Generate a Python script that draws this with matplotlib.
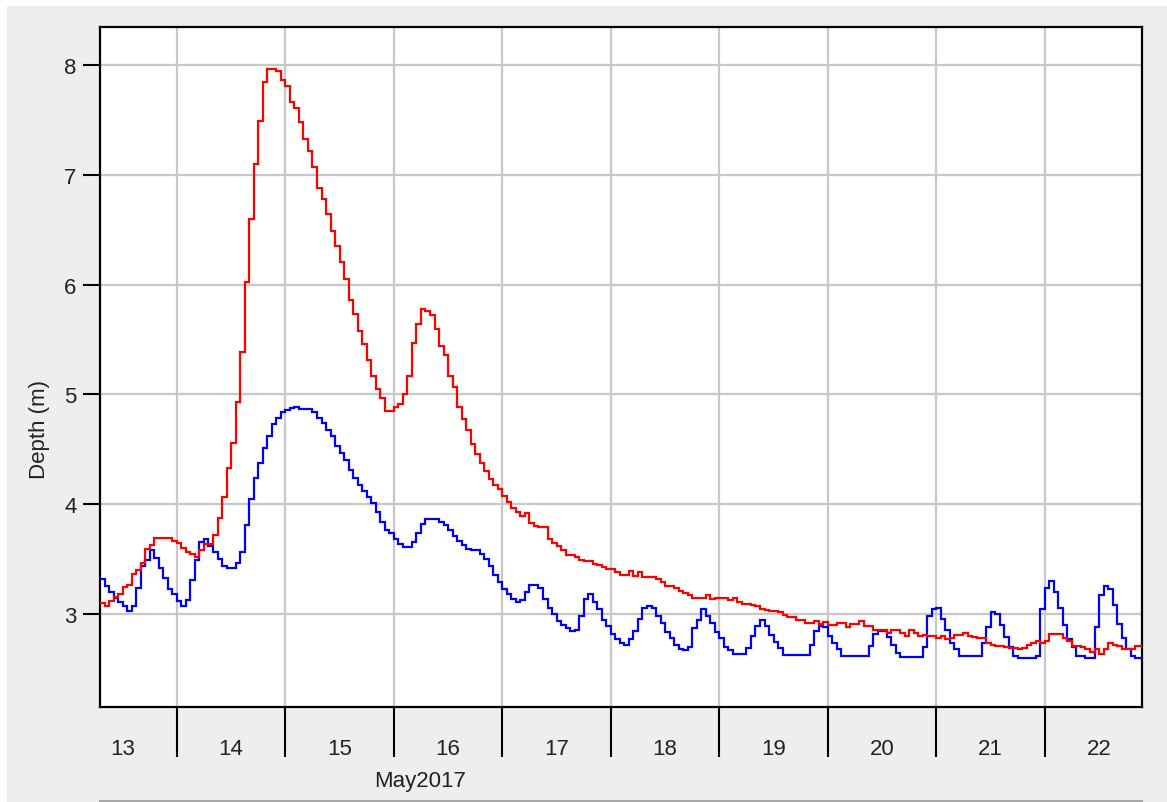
import numpy as np
import pandas as pd
import matplotlib
matplotlib.use('Agg')
import matplotlib.pyplot as plt
import matplotlib.dates as mdates
from matplotlib.patches import Rectangle
from matplotlib.lines import Line2D

plt.rcParams['font.family'] = ['Liberation Sans', 'DejaVu Sans']

# ---- data (hourly, starting 13 May 2017 07:00) ----
start_time = '2017-05-13 07:00'
red_depth = [
    3.10, 3.07, 3.12, 3.16, 3.18, 3.25, 3.27, 3.37, 3.40, 3.47,
    3.59, 3.63, 3.69, 3.69, 3.69, 3.69, 3.67, 3.65, 3.60, 3.57,
    3.55, 3.52, 3.58, 3.64, 3.64, 3.72, 3.88, 4.07, 4.33, 4.56,
    4.93, 5.39, 6.02, 6.60, 7.10, 7.49, 7.84, 7.96, 7.96, 7.94,
    7.86, 7.81, 7.66, 7.61, 7.48, 7.33, 7.22, 7.07, 6.88, 6.78,
    6.64, 6.49, 6.35, 6.21, 6.05, 5.86, 5.73, 5.58, 5.46, 5.31,
    5.17, 5.05, 4.97, 4.85, 4.85, 4.89, 4.91, 5.00, 5.17, 5.47,
    5.64, 5.78, 5.76, 5.72, 5.60, 5.44, 5.36, 5.17, 5.07, 4.89,
    4.78, 4.68, 4.55, 4.46, 4.38, 4.30, 4.23, 4.18, 4.14, 4.08,
    4.02, 3.97, 3.93, 3.89, 3.92, 3.83, 3.80, 3.79, 3.79, 3.68,
    3.65, 3.62, 3.58, 3.54, 3.54, 3.52, 3.49, 3.48, 3.48, 3.46,
    3.45, 3.43, 3.41, 3.41, 3.38, 3.36, 3.36, 3.39, 3.35, 3.38,
    3.34, 3.34, 3.34, 3.32, 3.29, 3.26, 3.26, 3.24, 3.21, 3.19,
    3.17, 3.15, 3.15, 3.15, 3.17, 3.14, 3.15, 3.15, 3.15, 3.13,
    3.15, 3.11, 3.09, 3.09, 3.08, 3.07, 3.05, 3.04, 3.03, 3.03,
    3.02, 2.99, 2.97, 2.97, 2.95, 2.95, 2.92, 2.92, 2.94, 2.91,
    2.93, 2.90, 2.90, 2.92, 2.92, 2.88, 2.91, 2.91, 2.94, 2.89,
    2.89, 2.86, 2.86, 2.86, 2.83, 2.86, 2.86, 2.83, 2.80, 2.86,
    2.83, 2.80, 2.81, 2.80, 2.80, 2.78, 2.80, 2.77, 2.78, 2.81,
    2.81, 2.83, 2.80, 2.79, 2.78, 2.78, 2.74, 2.72, 2.71, 2.71,
    2.70, 2.69, 2.69, 2.68, 2.69, 2.72, 2.74, 2.76, 2.74, 2.76,
    2.82, 2.82, 2.82, 2.78, 2.76, 2.71, 2.71, 2.70, 2.68, 2.66,
    2.68, 2.64, 2.68, 2.74, 2.72, 2.71, 2.68, 2.68, 2.68, 2.71,
    2.71,
]
blue_depth = [
    3.32, 3.26, 3.20, 3.15, 3.11, 3.07, 3.03, 3.07, 3.24, 3.44,
    3.49, 3.58, 3.51, 3.42, 3.33, 3.23, 3.18, 3.12, 3.07, 3.13,
    3.31, 3.49, 3.66, 3.68, 3.62, 3.57, 3.50, 3.44, 3.42, 3.42,
    3.47, 3.57, 3.81, 4.05, 4.24, 4.38, 4.51, 4.62, 4.73, 4.79,
    4.84, 4.86, 4.88, 4.89, 4.87, 4.87, 4.87, 4.84, 4.79, 4.74,
    4.68, 4.62, 4.53, 4.47, 4.40, 4.31, 4.24, 4.18, 4.12, 4.07,
    4.01, 3.93, 3.84, 3.77, 3.74, 3.68, 3.64, 3.61, 3.61, 3.66,
    3.74, 3.82, 3.87, 3.87, 3.87, 3.84, 3.81, 3.77, 3.71, 3.67,
    3.63, 3.59, 3.58, 3.58, 3.55, 3.50, 3.44, 3.36, 3.29, 3.23,
    3.18, 3.14, 3.11, 3.13, 3.20, 3.27, 3.27, 3.24, 3.14, 3.06,
    3.00, 2.94, 2.90, 2.87, 2.85, 2.86, 2.98, 3.14, 3.18, 3.11,
    3.05, 2.95, 2.89, 2.82, 2.77, 2.74, 2.72, 2.77, 2.85, 2.96,
    3.06, 3.07, 3.06, 2.98, 2.92, 2.84, 2.78, 2.72, 2.68, 2.67,
    2.70, 2.87, 2.95, 3.05, 2.98, 2.92, 2.84, 2.78, 2.70, 2.67,
    2.64, 2.64, 2.64, 2.69, 2.80, 2.89, 2.95, 2.89, 2.81, 2.75,
    2.69, 2.63, 2.63, 2.63, 2.63, 2.63, 2.63, 2.72, 2.85, 2.89,
    2.88, 2.80, 2.74, 2.68, 2.62, 2.62, 2.62, 2.62, 2.62, 2.62,
    2.71, 2.82, 2.85, 2.85, 2.79, 2.72, 2.65, 2.61, 2.61, 2.61,
    2.61, 2.61, 2.70, 2.98, 3.05, 3.06, 2.96, 2.86, 2.74, 2.68,
    2.62, 2.62, 2.62, 2.62, 2.62, 2.74, 2.88, 3.02, 3.00, 2.90,
    2.79, 2.70, 2.62, 2.60, 2.60, 2.60, 2.60, 2.62, 3.05, 3.24,
    3.30, 3.20, 3.06, 2.90, 2.77, 2.70, 2.62, 2.62, 2.60, 2.60,
    2.88, 3.17, 3.26, 3.23, 3.08, 2.91, 2.78, 2.68, 2.62, 2.60,
    2.60,
]
y_ticks = [3, 4, 5, 6, 7, 8]
y_label = 'Depth (m)'
month_label = 'May2017'

# ---- figure ----
W, H = 1167, 803
fig = plt.figure(figsize=(W / 100, H / 100), dpi=100)
fig.patch.set_facecolor('white')
fig.add_artist(Rectangle((7 / W, 0), (W - 7) / W, (H - 7) / H, transform=fig.transFigure,
                         facecolor='#eeeeee', edgecolor='none', zorder=0))

ax_l, ax_r, ax_t, ax_b = 100, 1142, 28, 708
ax = fig.add_axes([ax_l / W, 1 - ax_b / H, (ax_r - ax_l) / W, (ax_b - ax_t) / H])
ax.set_facecolor('white')

edges = mdates.date2num(pd.date_range(start_time, periods=len(red_depth) + 1, freq='h'))
ax.stairs(blue_depth, edges, color='#0000ff', lw=1.6, baseline=None, zorder=3)
ax.stairs(red_depth, edges, color='#ff0000', lw=1.6, baseline=None, zorder=4)

x0 = pd.Timestamp(start_time)
ax.set_xlim(mdates.date2num(x0), mdates.date2num(x0 + pd.Timedelta(hours=230.5)))
ax.set_ylim(2.155, 8.345)
ax.xaxis_date()

ax.xaxis.set_major_locator(mdates.DayLocator())
ax.xaxis.set_major_formatter(plt.NullFormatter())
ax.xaxis.set_minor_locator(mdates.HourLocator(byhour=[12]))
ax.xaxis.set_minor_formatter(mdates.DateFormatter('%d'))
ax.set_yticks(y_ticks)
ax.set_yticklabels([str(v) for v in y_ticks])

ax.grid(True, which='major', axis='both', color='#c8c8c8', lw=1.6, zorder=1)
ax.set_axisbelow(True)
ax.tick_params(axis='x', which='major', length=36, width=1.5, direction='out', color='black')
ax.tick_params(axis='x', which='minor', length=0, pad=22, labelsize=16, labelcolor='#222222')
ax.tick_params(axis='y', which='major', length=12, width=1.5, direction='out', pad=5,
               labelsize=16, labelcolor='#222222')
for s in ax.spines.values():
    s.set_linewidth(1.6)
    s.set_color('black')

fig.text(40 / W, 1 - 430 / H, y_label, rotation=90, ha='center', va='center', fontsize=16,
         color='#222222')
fig.text(420 / W, 1 - 782 / H, month_label, ha='center', va='center', fontsize=16, color='#222222')
fig.add_artist(Line2D([100 / W, 1142 / W], [1 - 801.5 / H, 1 - 801.5 / H], transform=fig.transFigure,
                      color='#a8a8a8', lw=1.5))

fig.savefig('out.png', dpi=100)
